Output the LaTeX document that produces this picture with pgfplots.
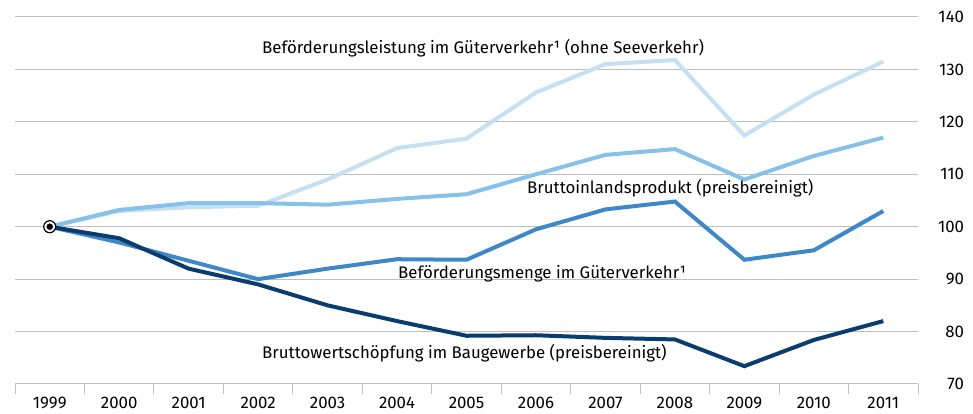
\documentclass[border=0pt]{standalone}
\usepackage{fontspec}
\setmainfont{Fira Sans}
\usepackage{pgfplots}
\pgfplotsset{compat=1.18}
\definecolor{gridgray}{RGB}{190,190,190}
\definecolor{cLeist}{RGB}{197,223,243}
\definecolor{cBIP}{RGB}{134,193,234}
\definecolor{cMenge}{RGB}{63,136,200}
\definecolor{cBau}{RGB}{11,60,111}
\newcommand{\lf}{\fontsize{16.8}{20}\selectfont}
\begin{document}
\begin{tikzpicture}
\useasboundingbox (-15pt,-30pt) rectangle (958pt,384pt);
\begin{axis}[
  at={(0pt,0pt)}, anchor=south west,
  scale only axis, width=903pt, height=367pt,
  xmin=-0.5, xmax=12.5, ymin=70, ymax=140,
  axis x line*=bottom, axis y line*=right,
  x axis line style={draw=gridgray, line width=1pt, -},
  y axis line style={draw=none},
  xtick={0,...,12},
  xticklabels={1999,2000,2001,2002,2003,2004,2005,2006,2007,2008,2009,2010,2011},
  major x tick style={draw=none},
  minor xtick={-0.5,0.5,...,12.5},
  minor x tick style={draw=gridgray, line width=1pt},
  minor tick length=10pt,
  tick align=outside,
  ytick={70,80,...,140},
  major y tick style={draw=none},
  ymajorgrids,
  grid style={gridgray, line width=1pt},
  /pgf/number format/assume math mode=true,
  tick label style={font=\lf, text=black},
  xticklabel style={yshift=-5pt},
  yticklabel style={anchor=east, inner sep=0pt, xshift=42pt},
  clip=false,
]
\addplot[cLeist, line width=4pt] coordinates {
(0,100) (1,103) (2,103.7) (3,104) (4,109) (5,115) (6,116.8) (7,125.6) (8,131) (9,131.8) (10,117.4) (11,125.2) (12,131.5)};
\addplot[cBIP, line width=4pt] coordinates {
(0,100) (1,103.2) (2,104.5) (3,104.5) (4,104.2) (5,105.3) (6,106.2) (7,110) (8,113.7) (9,114.8) (10,109) (11,113.5) (12,117)};
\addplot[cMenge, line width=4pt] coordinates {
(0,100) (1,97) (2,93.5) (3,90) (4,92) (5,93.8) (6,93.7) (7,99.5) (8,103.3) (9,104.8) (10,93.7) (11,95.5) (12,103)};
\addplot[cBau, line width=4pt] coordinates {
(0,100) (1,97.8) (2,92) (3,89) (4,85) (5,82) (6,79.2) (7,79.3) (8,78.8) (9,78.5) (10,73.4) (11,78.4) (12,82)};
\addplot[only marks, mark=*, mark size=6pt, mark options={fill=white, draw=black, line width=1.2pt}] coordinates {(0,100)};
\addplot[only marks, mark=*, mark size=3pt, mark options={fill=black, draw=black}] coordinates {(0,100)};
\node[anchor=west, font=\lf, inner sep=0pt] at (axis cs:3.056,134.1) {Beförderungsleistung im Güterverkehr¹ (ohne Seeverkehr)};
\node[anchor=west, font=\lf, inner sep=0pt] at (axis cs:6.871,107.4) {Bruttoinlandsprodukt (preisbereinigt)};
\node[anchor=west, font=\lf, inner sep=0pt] at (axis cs:5.014,91.0) {Beförderungsmenge im Güterverkehr¹};
\node[anchor=west, font=\lf, inner sep=0pt] at (axis cs:3.056,75.9) {Bruttowertschöpfung im Baugewerbe (preisbereinigt)};
\end{axis}
\end{tikzpicture}
\end{document}
